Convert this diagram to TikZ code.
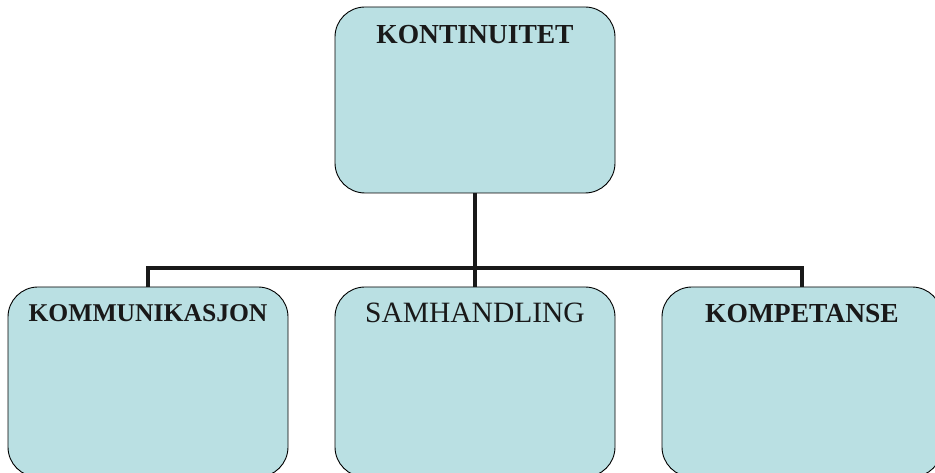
\documentclass[tikz,border=0pt]{standalone}
\usepackage{fontspec}
\setmainfont{Liberation Serif}
\definecolor{boxfill}{RGB}{186,224,227}
\begin{document}
\begin{tikzpicture}[x=1pt,y=1pt,
  orgbox/.style={draw=black,line width=0.9pt,fill=boxfill,rounded corners=30pt,
    minimum width=280pt,minimum height=#1,inner sep=0pt,outer sep=0pt},
  orgbox/.default=186pt,
  lbl/.style={anchor=base,inner sep=0pt,text=black!90},
  conn/.style={line width=3.8pt,black!90}]
\useasboundingbox (0,0) rectangle (935,473);
\node[orgbox=186pt] (top) at (475,373) {};
\node[orgbox=190pt] (left) at (148,91) {};
\node[orgbox=190pt] (mid) at (475,91) {};
\node[orgbox=190pt] (right) at (802,91) {};
\node[lbl,font=\fontsize{27.5}{30}\selectfont\bfseries] (ttop) at ([yshift=-37pt]top.north) {KONTINUITET};
\node[lbl,font=\fontsize{25.6}{30}\selectfont\bfseries] (tleft) at ([yshift=-35pt]left.north) {KOMMUNIKASJON};
\node[lbl,font=\fontsize{29.5}{32}\selectfont] (tmid) at ([yshift=-36pt]mid.north) {SAMHANDLING};
\node[lbl,font=\fontsize{27.5}{30}\selectfont\bfseries] (tright) at ([yshift=-36pt]right.north) {KOMPETANSE};
\coordinate (bus) at ([yshift=-75pt]top.south);
\draw[conn] (top.south) -- (mid.north);
\draw[conn] (bus -| left.north) -- (left.north);
\draw[conn] (bus -| right.north) -- (right.north);
\draw[conn,line cap=rect] (bus -| left.north) -- (bus -| right.north);
\end{tikzpicture}
\end{document}
